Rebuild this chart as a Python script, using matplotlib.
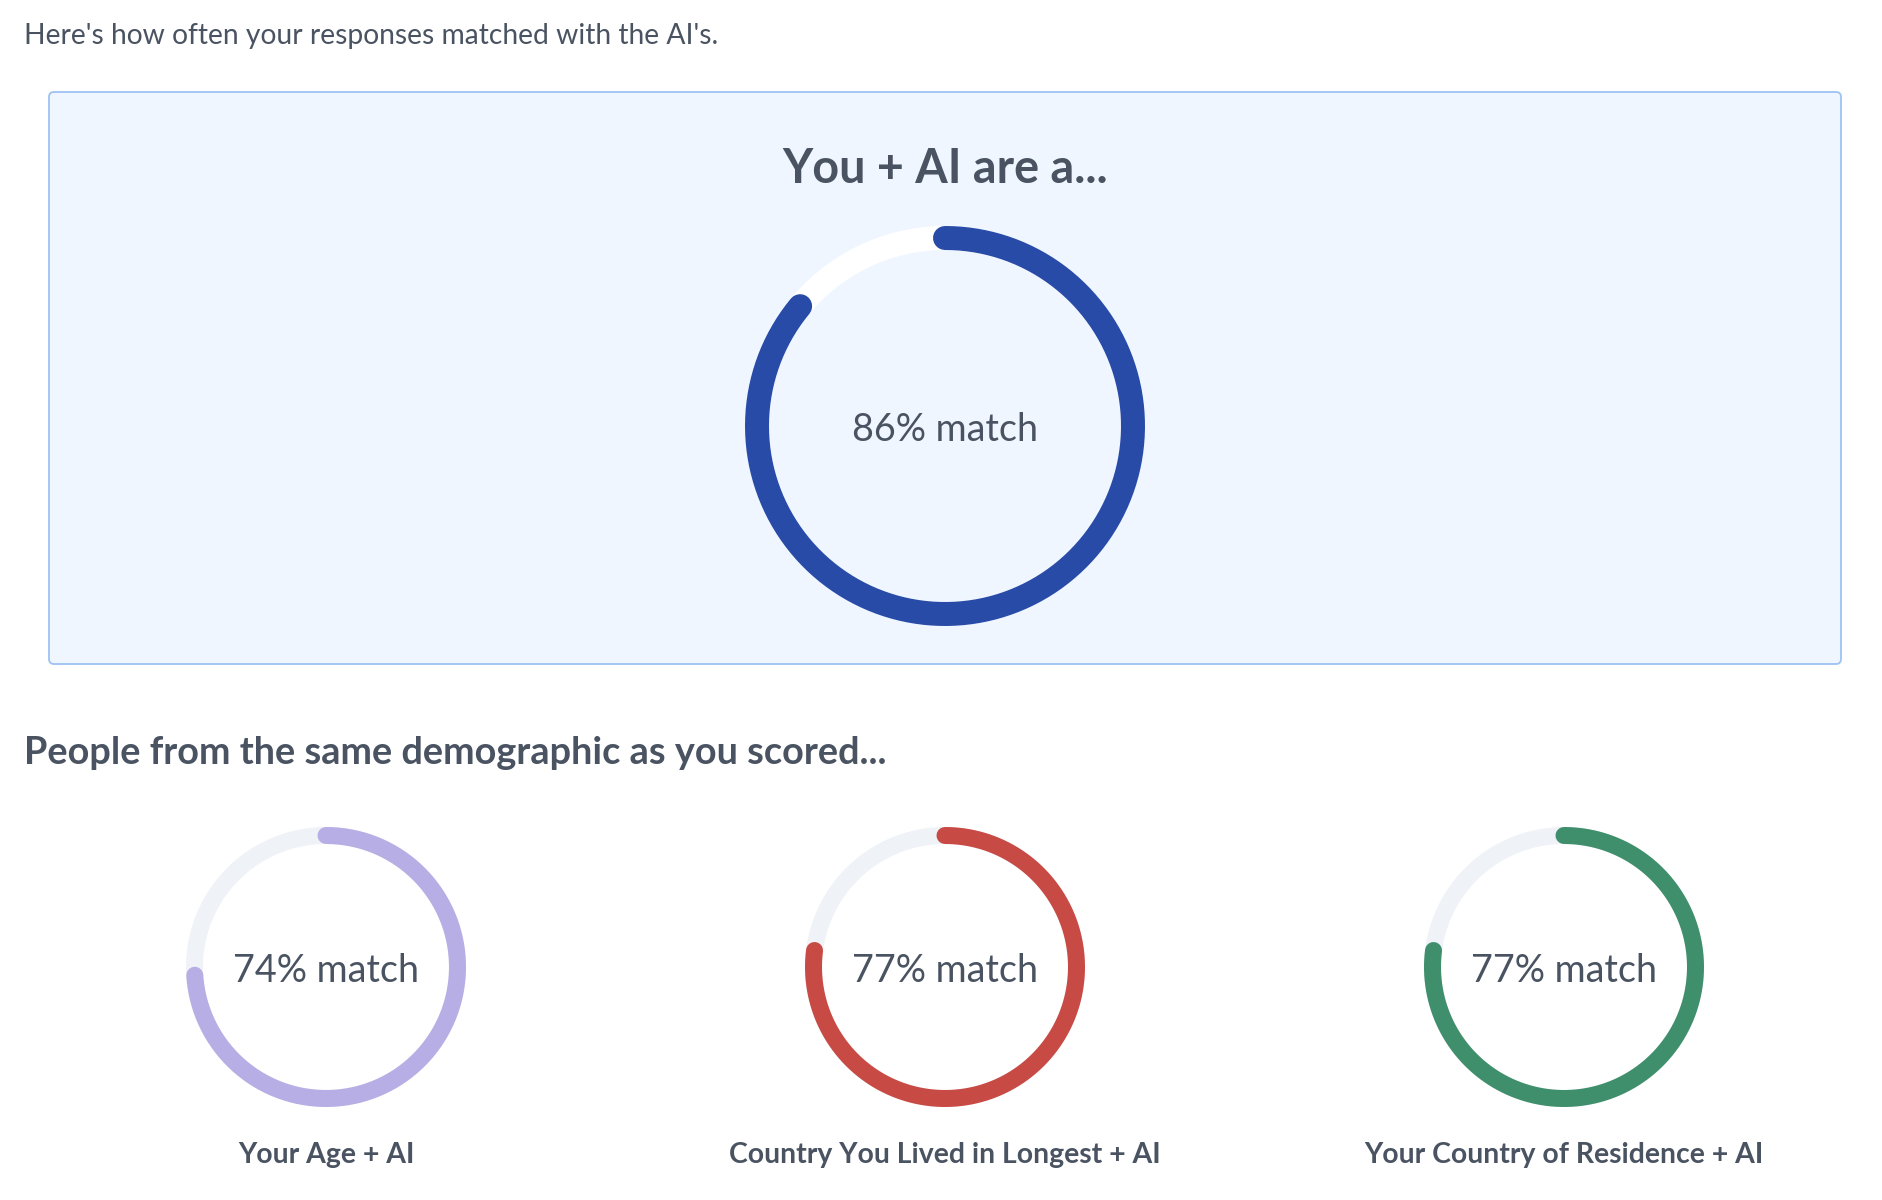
import numpy as np
import matplotlib
matplotlib.use("Agg")
import matplotlib.pyplot as plt
from matplotlib.patches import FancyBboxPatch

plt.rcParams['font.family'] = ['Lato', 'DejaVu Sans']

# data
main_pct = 86
main_title = "You + AI are a..."
group_labels = ["Your Age + AI", "Country You Lived in Longest + AI", "Your Country of Residence + AI"]
group_pcts = [74, 77, 77]
group_colors = ['#B6AEE4', '#C84A44', '#3F8E6C']

text_col = '#4A5361'
W, H = 1882, 1200

fig = plt.figure(figsize=(W / 100, H / 100), dpi=100)
fig.patch.set_facecolor('white')

# full-figure axes in pixel units (y pointing down)
ax = fig.add_axes([0, 0, 1, 1])
ax.set_xlim(0, W)
ax.set_ylim(H, 0)
ax.axis('off')

box = FancyBboxPatch((49, 92), 1792, 572, boxstyle="round,pad=0,rounding_size=5",
                     facecolor='#EFF6FF', edgecolor='#9EC2F2', linewidth=1.3)
ax.add_patch(box)

ax.text(24, 44, "Here's how often your responses matched with the AI's.",
        fontsize=20.3, color=text_col, va='baseline', ha='left')
ax.text(945, 183, main_title, fontsize=33.7, fontweight='bold', color=text_col,
        va='baseline', ha='center')
ax.text(24, 764, "People from the same demographic as you scored...",
        fontsize=27.3, fontweight='bold', color=text_col, va='baseline', ha='left')


def ring(cx, cy, r_mid, width_px, pct, color, track):
    rmax = r_mid + width_px
    pax = fig.add_axes([(cx - rmax) / W, 1 - (cy + rmax) / H, 2 * rmax / W, 2 * rmax / H],
                       projection='polar')
    pax.set_theta_zero_location('N')
    pax.set_theta_direction(-1)
    pax.set_ylim(0, rmax)
    pax.axis('off')
    lw = width_px * 0.72
    full = np.linspace(0, 2 * np.pi, 400)
    pax.plot(full, np.full_like(full, r_mid), color=track, lw=lw)
    th = np.linspace(0, 2 * np.pi * pct / 100, 400)
    pax.plot(th, np.full_like(th, r_mid), color=color, lw=lw, solid_capstyle='round')
    return pax


ring(945, 426, 188, 24, main_pct, '#284BA8', 'white')
ax.text(945, 441, f"{main_pct}% match", fontsize=27.2, color=text_col,
        va='baseline', ha='center')

centers_x = [326, 945, 1564]
for x, lab, p, c in zip(centers_x, group_labels, group_pcts, group_colors):
    ring(x, 967, 131.5, 17, p, c, '#EFF3F7')
    ax.text(x, 982, f"{p}% match", fontsize=27.2, color=text_col,
            va='baseline', ha='center')
    ax.text(x, 1163, lab, fontsize=20.4, fontweight='bold', color=text_col,
            va='baseline', ha='center')

plt.savefig("out.png", dpi=100, facecolor='white')
plt.close()
